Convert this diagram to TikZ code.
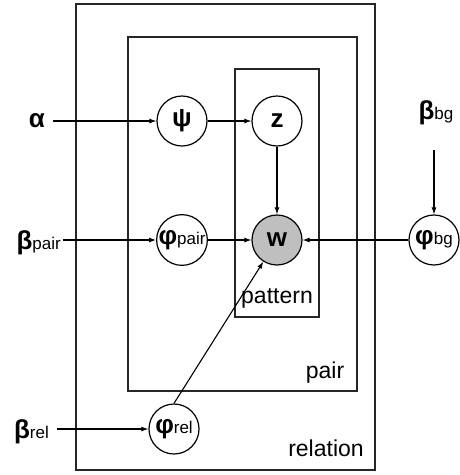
\documentclass[tikz,border=0pt]{standalone}
\usepackage{fontspec}
\setmainfont{Liberation Sans}
\usetikzlibrary{arrows.meta}
\newcommand{\subtxt}[1]{{\fontsize{17}{17}\selectfont\mdseries #1}}
\begin{document}
\begin{tikzpicture}[x=1pt,y=-1pt,
  var/.style={circle,draw,line width=1.2pt,minimum size=50pt,inner sep=0pt,font=\fontsize{26}{26}\selectfont\bfseries},
  obs/.style={var,fill=black!25},
  plate/.style={draw=black!85,line width=1.3pt},
  edge/.style={-{Latex[length=7pt,width=5pt]},line width=1.1pt},
  lbl/.style={font=\fontsize{23}{23}\selectfont,inner sep=0pt},
  hyp/.style={font=\fontsize{26}{26}\selectfont\bfseries,inner sep=0pt},
]
\useasboundingbox (0,0) rectangle (459,475);
% plates
\draw[plate] (76,4) rectangle (375,470);
\draw[plate] (128,37) rectangle (357,391);
\draw[plate] (235,69) rectangle (319,317);
\node[lbl] (lpattern) at (277,298) {pattern};
\node[lbl] (lpair) at (325,373) {pair};
\node[lbl] (lrel) at (326,448) {relation};
% variables
\node[var] (psi) at (182,121) {ψ};
\node[var] (z) at (277,121) {z};
\node[obs] (w) at (277,240) {w};
\node[var] (pp) at (182,240) {φ\subtxt{pair}};
\node[var] (pbg) at (434,240) {φ\subtxt{bg}};
\node[var] (prel) at (174,429) {φ\subtxt{rel}};
% hyperparameters
\node[hyp,anchor=east] (alpha) at (45,121) {α};
\node[hyp,anchor=east] (bpair) at (61,243) {β\subtxt{pair}};
\node[hyp] (bbg) at (436,113) {β\subtxt{bg}};
\node[hyp,anchor=east] (brel) at (49,432) {β\subtxt{rel}};
% edges
\draw[edge] ([xshift=8pt]alpha.east |- psi.west) -- (psi.west);
\draw[edge] (psi) -- (z);
\draw[edge] (z) -- (w);
\draw[edge] ([xshift=2pt]bpair.east |- pp.west) -- (pp.west);
\draw[edge] (pp) -- (w);
\draw[edge] (pbg) -- (w);
\draw[edge] ([yshift=-25pt]bbg.south -| pbg.north) -- (pbg.north);
\draw[edge] ([xshift=8pt]brel.east |- prel.west) -- (prel.west);
\draw[edge] (prel.north) -- (w);
\end{tikzpicture}
\end{document}
